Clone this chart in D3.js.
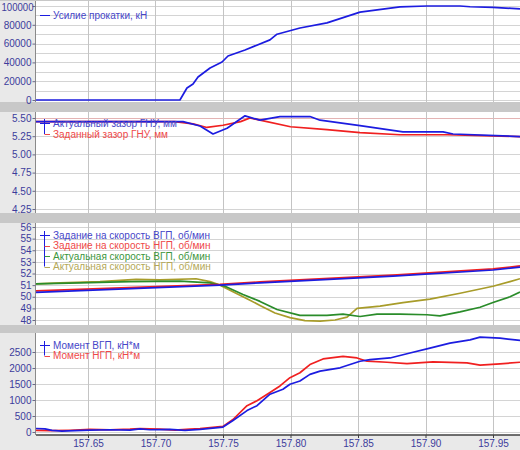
<!DOCTYPE html>
<html>
<head>
<meta charset="utf-8">
<script src="https://cdn.jsdelivr.net/npm/d3@7"></script>
<style>
body { margin: 0; background: #e9e9e9; }
svg { display: block; font-family: "Liberation Sans", Arial, sans-serif; }
</style>
</head>
<body>
<div id="chart"></div>
<script>

// x ticks (time, s)
var xTicks = [157.65, 157.70, 157.75, 157.80, 157.85, 157.90, 157.95];

// panel 1 - rolling force
var forceTime = [157.6115, 157.7181, 157.7233, 157.7278, 157.7315, 157.7404, 157.7493, 157.7537, 157.7663, 157.7848, 157.7900, 157.8070, 157.8270, 157.8515, 157.8811, 157.9011, 157.9256, 157.9330, 157.9500, 157.9700];
var force = [0, 0, 12800, 17000, 24500, 34000, 40400, 46800, 53200, 64000, 70000, 76600, 82000, 93500, 99000, 100000, 100000, 99200, 98500, 97000];
var forceTicks = [0, 20000, 40000, 60000, 80000, 100000];

// panel 2 - roll gap
var gapActTime = [157.6115, 157.7204, 157.7330, 157.7426, 157.7530, 157.7663, 157.7774, 157.7922, 157.8144, 157.8219, 157.8515, 157.8833, 157.9130, 157.9204, 157.9700];
var gapAct = [5.45, 5.45, 5.39, 5.28, 5.36, 5.53, 5.47, 5.52, 5.52, 5.47, 5.395, 5.31, 5.31, 5.28, 5.245];
var gapSetTime = [157.6115, 157.7144, 157.7278, 157.7381, 157.7500, 157.7630, 157.7700, 157.7774, 157.8000, 157.8270, 157.8515, 157.8811, 157.9160, 157.9700];
var gapSet = [5.45, 5.45, 5.42, 5.37, 5.40, 5.45, 5.50, 5.47, 5.38, 5.34, 5.30, 5.27, 5.27, 5.245];
var gapTicks = [4.25, 4.50, 4.75, 5.00, 5.25, 5.50];

// panel 3 - speeds
var refTime = [157.6115, 157.7478, 157.7774, 157.8759, 157.9500, 157.9700];
var refTop = [50.38, 51.0, 51.2, 51.78, 52.3, 52.55];
var refBot = [50.5, 51.07, 51.28, 51.86, 52.4, 52.65];
var actTopTime = [157.6115, 157.6441, 157.6811, 157.7181, 157.7404, 157.7515, 157.7648, 157.7774, 157.7900, 157.8070, 157.8270, 157.8389, 157.8515, 157.8641, 157.8811, 157.9011, 157.9107, 157.9256, 157.9404, 157.9500, 157.9626, 157.9700];
var actTop = [51.1, 51.2, 51.3, 51.35, 51.2, 50.9, 50.2, 49.6, 48.9, 48.4, 48.4, 48.5, 48.3, 48.5, 48.5, 48.45, 48.35, 48.7, 49.1, 49.5, 50.0, 50.4];
var actBotTime = [157.6115, 157.6293, 157.6589, 157.6856, 157.7033, 157.7300, 157.7404, 157.7478, 157.7596, 157.7700, 157.7774, 157.7885, 157.7996, 157.8107, 157.8219, 157.8330, 157.8419, 157.8493, 157.8663, 157.8833, 157.9033, 157.9256, 157.9500, 157.9626, 157.9700];
var actBot = [51.1, 51.2, 51.3, 51.5, 51.45, 51.55, 51.3, 51.0, 50.3, 49.7, 49.25, 48.6, 48.2, 47.95, 47.9, 48.0, 48.25, 49.0, 49.2, 49.5, 49.8, 50.3, 50.9, 51.3, 51.55];
var speedTicks = [48, 49, 50, 51, 52, 53, 54, 55, 56];

// panel 4 - torques
var torqTopTime = [157.6115, 157.6181, 157.6233, 157.6307, 157.6404, 157.6515, 157.6663, 157.6811, 157.6885, 157.6959, 157.7107, 157.7219, 157.7330, 157.7500, 157.7574, 157.7678, 157.7752, 157.7848, 157.7944, 157.7996, 157.8070, 157.8144, 157.8219, 157.8367, 157.8515, 157.8589, 157.8737, 157.8885, 157.9033, 157.9181, 157.9330, 157.9404, 157.9552, 157.9700];
var torqTop = [110, 100, 50, 25, 40, 60, 70, 60, 100, 70, 80, 50, 80, 154, 360, 669, 823, 1182, 1337, 1491, 1594, 1800, 1903, 2006, 2212, 2263, 2314, 2469, 2623, 2777, 2880, 2963, 2932, 2860];
var torqBotTime = [157.6115, 157.6219, 157.6367, 157.6515, 157.6663, 157.6811, 157.6885, 157.7033, 157.7144, 157.7256, 157.7330, 157.7500, 157.7574, 157.7678, 157.7752, 157.7848, 157.7922, 157.7996, 157.8070, 157.8144, 157.8241, 157.8389, 157.8493, 157.8567, 157.8715, 157.8863, 157.9056, 157.9307, 157.9404, 157.9552, 157.9700];
var torqBot = [50, 40, 55, 80, 70, 90, 110, 90, 60, 90, 103, 175, 390, 823, 978, 1234, 1440, 1697, 1852, 2108, 2284, 2366, 2314, 2212, 2180, 2139, 2190, 2160, 2088, 2129, 2180];
var torqTicks = [0, 500, 1000, 1500, 2000, 2500];

var blue = "#1c1ce0", red = "#f02020", green = "#2a8c2a", olive = "#a89c2a";

var width = 520, height = 450;
var left = 36, right = 520;

var svg = d3.select("#chart")
	.append("svg")
	.attr("width", width)
	.attr("height", height);

svg.append("rect")
	.attr("width", width)
	.attr("height", height)
	.attr("fill", "#e9e9e9");

var x = d3.scaleLinear()
	.domain([157.65, 157.95])
	.range([88, 493]);

function zip(t, v) {
	return t.map(function (d, i) {
		return { t: d, v: v[i] };
	});
}

var panels = [
	{ top: 1, bottom: 102, domain: [0, 100000], range: [100, 6], ticks: forceTicks, grid: d3.range(0, 110000, 10000), fmt: d3.format("d"),
	  series: [{ name: "Усилие прокатки, кН", data: zip(forceTime, force), color: blue, text: "#4646c8" }], legendY: [15] },
	{ top: 112, bottom: 213, domain: [4.25, 5.5], range: [209, 118], ticks: gapTicks, grid: gapTicks, fmt: d3.format(".2f"),
	  series: [{ name: "Актуальный зазор ГНУ, мм", data: zip(gapActTime, gapAct), color: blue, text: "#4646c8" },
	           { name: "Заданный зазор ГНУ, мм", data: zip(gapSetTime, gapSet), color: red, text: "#ee4848" }], legendY: [123, 134] },
	{ top: 223, bottom: 325, domain: [48, 56], range: [320, 227], ticks: speedTicks, grid: speedTicks, fmt: d3.format("d"),
	  series: [{ name: "Задание на скорость ВГП, об/мин", data: zip(refTime, refTop), color: blue, text: "#4646c8" },
	           { name: "Задание на скорость НГП, об/мин", data: zip(refTime, refBot), color: red, text: "#ee4848" },
	           { name: "Актуальная скорость ВГП, об/мин", data: zip(actTopTime, actTop), color: green, text: "#3c963c" },
	           { name: "Актуальная скорость НГП, об/мин", data: zip(actBotTime, actBot), color: olive, text: "#b4a858" }], legendY: [235, 245.5, 256, 266.5] },
	{ top: 333, bottom: 435, domain: [0, 2500], range: [432, 352], ticks: torqTicks, grid: torqTicks, fmt: d3.format("d"),
	  series: [{ name: "Момент ВГП, кН*м", data: zip(torqTopTime, torqTop), color: blue, text: "#4646c8" },
	           { name: "Момент НГП, кН*м", data: zip(torqBotTime, torqBot), color: red, text: "#ee4848" }], legendY: [345, 355.5] }
];

// grey separator bands
var bands = [[0, 1], [102, 112], [213, 223], [325, 333]];
svg.selectAll(".band")
	.data(bands)
	.enter()
	.append("rect")
	.attr("x", 0)
	.attr("width", width)
	.attr("y", function (d) { return d[0]; })
	.attr("height", function (d) { return d[1] - d[0]; })
	.attr("fill", "#c8c8c8");

panels.forEach(function (p, pi) {
	var y = d3.scaleLinear().domain(p.domain).range(p.range);
	var g = svg.append("g");

	g.append("rect")
		.attr("x", left)
		.attr("y", p.top)
		.attr("width", right - left)
		.attr("height", p.bottom - p.top)
		.attr("fill", "#ffffff");

	g.append("clipPath")
		.attr("id", "clip" + pi)
		.append("rect")
		.attr("x", left)
		.attr("y", p.top)
		.attr("width", right - left)
		.attr("height", p.bottom - p.top);

	// horizontal grid
	g.selectAll(".hg")
		.data(p.grid.filter(function (d) { return y(d) > p.top && y(d) < p.bottom; }))
		.enter()
		.append("line")
		.attr("x1", left)
		.attr("x2", right)
		.attr("y1", function (d) { return Math.round(y(d)) + 0.5; })
		.attr("y2", function (d) { return Math.round(y(d)) + 0.5; })
		.attr("stroke", function (d) { return (pi === 1 && d === 5.5) ? "#e4b4b4" : "#d4d4d4"; })
		.attr("stroke-width", 1);

	// vertical grid
	g.selectAll(".vg")
		.data(xTicks)
		.enter()
		.append("line")
		.attr("x1", function (d) { return Math.round(x(d)) + 0.5; })
		.attr("x2", function (d) { return Math.round(x(d)) + 0.5; })
		.attr("y1", p.top)
		.attr("y2", p.bottom)
		.attr("stroke", "#c4c4c4")
		.attr("stroke-width", 1);

	// left axis
	var axis = g.append("g")
		.attr("transform", "translate(" + (left - 0.5) + ",0)")
		.call(d3.axisLeft(y).tickValues(p.ticks).tickFormat(p.fmt).tickSize(3).tickPadding(1));
	axis.select(".domain")
		.attr("stroke", "#8a8a8a")
		.attr("d", "M0," + p.top + "V" + p.bottom);
	axis.selectAll(".tick line").attr("stroke", "#6a6a8a");
	axis.selectAll("text")
		.attr("fill", "#3c3c9c")
		.style("font-size", "10px")
		.style("font-family", "'Liberation Sans', Arial, sans-serif");
	// keep the long top label of the first panel inside the picture
	if (pi === 0) {
		axis.selectAll(".tick text")
			.filter(function (d) { return d === 100000; })
			.attr("x", -2)
			.attr("dy", "0.45em")
			.attr("textLength", 32)
			.attr("lengthAdjust", "spacingAndGlyphs");
	}

	// series lines
	var line = d3.line()
		.x(function (d) { return x(d.t); })
		.y(function (d) { return y(d.v); });

	var lines = g.append("g").attr("clip-path", "url(#clip" + pi + ")");
	p.series.slice().reverse().forEach(function (s) {
		lines.append("path")
			.datum(s.data)
			.attr("fill", "none")
			.attr("stroke", s.color)
			.attr("stroke-width", 1.7)
			.attr("stroke-linejoin", "round")
			.attr("d", line);
	});

	// legend (tree bracket style)
	var ly = p.legendY;
	if (ly.length > 1) {
		g.append("line")
			.attr("x1", 44.5).attr("x2", 44.5)
			.attr("y1", ly[0] - 4).attr("y2", ly[ly.length - 1])
			.attr("stroke", p.series[0].color)
			.attr("stroke-width", 1);
	}
	p.series.forEach(function (s, i) {
		var x0 = (i === 0) ? 40 : 44.5;
		g.append("line")
			.attr("x1", x0).attr("x2", 50)
			.attr("y1", Math.round(ly[i]) + 0.5).attr("y2", Math.round(ly[i]) + 0.5)
			.attr("stroke", i === 0 ? s.color : s.text)
			.attr("stroke-width", 1);
		g.append("text")
			.attr("x", 53)
			.attr("y", ly[i] + 3.5)
			.attr("fill", s.text)
			.style("font-size", "10px")
			.text(s.name);
	});
});

// bottom axis
var bottom = svg.append("g")
	.attr("transform", "translate(0,435)")
	.call(d3.axisBottom(x).tickValues(xTicks).tickFormat(d3.format(".2f")).tickSize(3).tickPadding(2));
bottom.select(".domain")
	.attr("stroke", "#404040")
	.attr("stroke-width", 1.5)
	.attr("d", "M" + left + ",0H" + right);
bottom.selectAll(".tick line").attr("stroke", "#404040");
bottom.selectAll("text")
	.attr("fill", "#3c3c9c")
	.style("font-size", "10px")
	.style("font-family", "'Liberation Sans', Arial, sans-serif");

</script>
</body>
</html>
